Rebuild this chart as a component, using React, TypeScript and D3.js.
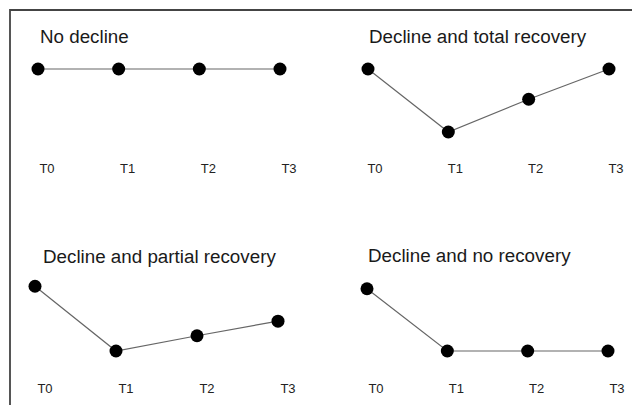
import React from "react";
import * as d3 from "d3";

const timePoints = ["T0", "T1", "T2", "T3"];
const titles = [
  "No decline",
  "Decline and total recovery",
  "Decline and partial recovery",
  "Decline and no recovery",
];
const noDecline = [100, 100, 100, 100];
const totalRecovery = [100, 0, 52, 100];
const partialRecovery = [102, 0, 24, 47];
const noRecovery = [98, 0, 0, 0];
const seriesList = [noDecline, totalRecovery, partialRecovery, noRecovery];

const W = 632;
const H = 405;

// panel layout (pixels)
const panels = [
  { x0: 38, x1: 280, yTop: 69, yBot: 132, titleX: 40, titleY: 43, labelY: 173, labelDx: 9 },
  { x0: 368, x1: 609, yTop: 69, yBot: 132, titleX: 369, titleY: 43, labelY: 173, labelDx: 7 },
  { x0: 35, x1: 278, yTop: 287.5, yBot: 351, titleX: 43, titleY: 263, labelY: 393, labelDx: 10 },
  { x0: 367, x1: 608, yTop: 287.5, yBot: 351, titleX: 368, titleY: 262, labelY: 393, labelDx: 9 },
];

export default function App() {
  return (
    <svg
      width={W}
      height={H}
      style={{ position: "absolute", left: 0, top: 0, background: "#fff" }}
      fontFamily="'Liberation Sans', Arial, sans-serif"
    >
      <rect x={0} y={0} width={W} height={H} fill="#fff" />
      <path d={`M10,${H + 5} L10,10 L${W + 5},10`} fill="none" stroke="#444" strokeWidth={1.8} />
      {panels.map((p, i) => {
        const x = d3.scalePoint<string>().domain(timePoints).range([p.x0, p.x1]);
        const y = d3.scaleLinear().domain([0, 100]).range([p.yBot, p.yTop]);
        const vals = seriesList[i];
        const line = d3
          .line<number>()
          .x((_, j) => x(timePoints[j]) as number)
          .y((v) => y(v));
        return (
          <g key={i}>
            <text x={p.titleX} y={p.titleY} fontSize={18.8} fill="#1a1a1a">
              {titles[i]}
            </text>
            <path d={line(vals) || ""} fill="none" stroke="#666" strokeWidth={1.2} />
            {vals.map((v, j) => (
              <circle key={j} cx={x(timePoints[j]) as number} cy={y(v)} r={6.5} fill="#000" />
            ))}
            {timePoints.map((t) => (
              <text
                key={t}
                x={(x(t) as number) + p.labelDx}
                y={p.labelY}
                fontSize={13}
                textAnchor="middle"
                fill="#222"
              >
                {t}
              </text>
            ))}
          </g>
        );
      })}
    </svg>
  );
}
